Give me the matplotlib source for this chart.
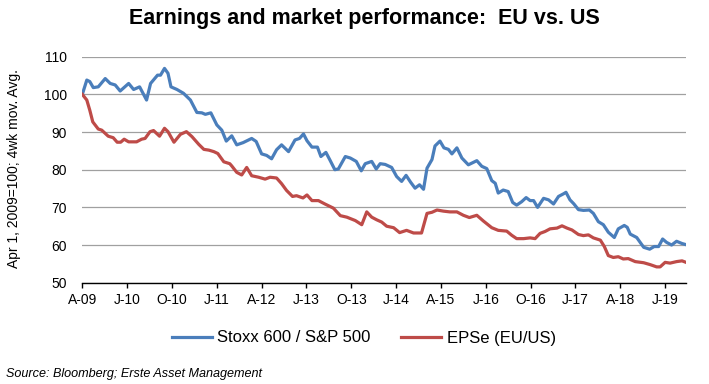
import matplotlib.pyplot as plt

plt.rcParams['font.family'] = ['Liberation Sans', 'DejaVu Sans']

# months since Apr 2009 (Apr 1, 2009 = 100)
stoxx_m = [0, 0.9, 1.5, 2.2, 3.2, 4.6, 5.6, 6.6, 7.6, 9.3, 10.3, 11.5, 12.9, 13.7, 15.1, 15.7,
           16.5, 17.2, 17.8, 19.0, 20.3, 21.7, 23.0, 24.0, 24.7, 25.8, 27.0, 28.0, 28.9, 30.0,
           31.0, 32.3, 34.0, 34.9, 36.0, 37.0, 38.0, 39.0, 40.0, 41.4, 42.7, 43.6, 44.4, 45.1,
           46.1, 47.2, 47.9, 48.9, 49.7, 50.7, 51.4, 52.8, 53.8, 55.0, 56.0, 56.8, 58.1, 59.0,
           59.8, 60.8, 62.1, 63.1, 64.1, 65.0, 65.9, 66.8, 67.7, 68.5, 69.2, 70.2, 70.8, 71.8,
           72.6, 73.5, 74.2, 75.2, 76.2, 77.5, 79.2, 80.2, 81.2, 82.2, 82.9, 83.5, 84.5, 85.5,
           86.4, 87.2, 88.2, 89.1, 89.9, 90.6, 91.4, 92.6, 93.6, 94.6, 95.6, 96.6, 97.1, 97.9,
           98.7, 99.6, 100.6, 101.8, 102.6, 103.6, 104.6, 105.6, 106.8, 107.6, 108.8, 109.4,
           110.0, 111.3, 112.7, 113.9, 114.8, 115.7, 116.5, 117.3, 118.3, 119.3, 120.4, 121.2]
stoxx_v = [100, 103.8, 103.4, 101.8, 102.0, 104.2, 102.9, 102.5, 100.9, 102.9, 101.3, 102.0, 98.5,
           102.9, 105.1, 105.1, 106.9, 105.6, 102.0, 101.3, 100.3, 98.5, 95.2, 95.1, 94.7, 95.1,
           91.9, 90.5, 87.6, 89.0, 86.6, 87.2, 88.3, 87.5, 84.2, 83.8, 82.9, 85.3, 86.6, 84.8,
           87.9, 88.3, 89.5, 87.7, 86.0, 86.0, 83.5, 84.6, 82.6, 80.0, 80.2, 83.5, 83.1, 82.2,
           79.7, 81.6, 82.2, 80.2, 81.6, 81.4, 80.6, 78.2, 76.9, 78.5, 76.7, 75.1, 76.0, 74.8,
           80.4, 82.7, 86.3, 87.6, 85.8, 85.4, 84.2, 85.8, 83.1, 81.3, 82.4, 80.9, 80.3, 77.1,
           76.4, 73.8, 74.6, 74.2, 71.3, 70.6, 71.5, 72.6, 71.8, 71.8, 70.0, 72.4, 72.0, 70.9,
           72.9, 73.6, 74.0, 72.0, 70.9, 69.4, 69.2, 69.3, 68.4, 66.2, 65.4, 63.4, 62.0, 64.3,
           65.2, 64.7, 62.9, 62.0, 59.4, 58.9, 59.6, 59.6, 61.6, 60.7, 60.0, 61.0, 60.4, 60.1]

eps_m = [0, 0.9, 1.5, 2.1, 3.2, 3.9, 5.2, 6.2, 7.0, 7.7, 8.4, 9.3, 10.9, 11.9, 12.6, 13.6, 14.3,
         15.5, 16.5, 17.2, 18.4, 19.7, 20.9, 22.0, 23.4, 24.4, 25.4, 26.4, 27.2, 28.4, 29.6,
         30.0, 31.0, 32.0, 33.0, 34.0, 35.4, 36.7, 37.7, 39.0, 40.0, 41.0, 42.2, 43.0, 44.3,
         45.1, 46.1, 47.4, 48.7, 50.4, 51.8, 53.1, 54.8, 56.1, 57.1, 58.1, 59.1, 60.1, 61.1,
         62.5, 63.7, 65.1, 66.5, 68.1, 69.2, 70.2, 71.2, 72.5, 73.8, 75.2, 76.5, 77.7, 79.2,
         80.5, 82.2, 83.5, 85.2, 86.2, 87.2, 88.6, 89.9, 90.9, 91.9, 92.9, 93.9, 95.3, 96.3,
         97.3, 98.3, 99.6, 100.6, 101.6, 102.6, 104.0, 104.8, 105.6, 106.6, 107.6, 108.6,
         109.6, 111.0, 112.7, 114.0, 115.3, 116.0, 117.0, 118.0, 119.3, 120.4, 121.2]
eps_v = [100, 98.5, 95.8, 92.7, 90.8, 90.5, 88.9, 88.5, 87.3, 87.3, 88.1, 87.4, 87.4, 88.1, 88.3,
         90.1, 90.4, 88.9, 91.0, 90.1, 87.3, 89.4, 90.1, 88.8, 86.7, 85.4, 85.2, 84.8, 84.3,
         82.1, 81.6, 81.0, 79.3, 78.6, 80.6, 78.4, 78.0, 77.5, 78.0, 77.8, 76.3, 74.5, 72.9,
         73.1, 72.5, 73.3, 71.8, 71.8, 70.9, 69.8, 67.8, 67.4, 66.5, 65.4, 68.8, 67.4, 66.7,
         66.1, 65.0, 64.6, 63.3, 63.9, 63.2, 63.2, 68.4, 68.7, 69.3, 69.0, 68.8, 68.8, 67.9,
         67.3, 67.9, 66.4, 64.6, 63.9, 63.7, 62.6, 61.7, 61.7, 61.9, 61.7, 63.1, 63.6, 64.3,
         64.5, 65.1, 64.5, 64.0, 62.8, 62.5, 62.7, 61.9, 61.3, 59.6, 57.2, 56.7, 56.9, 56.3,
         56.4, 55.6, 55.3, 54.8, 54.2, 54.2, 55.4, 55.2, 55.6, 55.8, 55.4]

tick_labels = ['A-09', 'J-10', 'O-10', 'J-11', 'A-12', 'J-13', 'O-13', 'J-14',
               'A-15', 'J-16', 'O-16', 'J-17', 'A-18', 'J-19']
tick_pos = [9 * i for i in range(len(tick_labels))]

fig = plt.figure(figsize=(7.09, 3.84), dpi=100)
ax = fig.add_axes([0.1161, 0.2638, 0.8515, 0.5885])

ax.plot(stoxx_m, stoxx_v, color='#4A7EBB', lw=2.3, label='Stoxx 600 / S&P 500', zorder=3)
ax.plot(eps_m, eps_v, color='#BE4B48', lw=2.3, label='EPSe (EU/US)', zorder=3)

ax.set_xlim(0, 121.2)
ax.set_ylim(50, 110)
ax.set_yticks(range(50, 111, 10))
ax.set_xticks(tick_pos)
ax.set_xticklabels(tick_labels)
ax.yaxis.grid(True, color='#A0A0A0', lw=0.9)
ax.set_axisbelow(True)
for s in ['left', 'right', 'top']:
    ax.spines[s].set_visible(False)
ax.spines['bottom'].set_linewidth(1.0)
ax.tick_params(axis='x', direction='out', length=3.5, width=1.0, pad=4, labelsize=10)
ax.tick_params(axis='y', length=0, pad=11, labelsize=10)

fig.text(0.514, 0.9375, 'Earnings and market performance:  EU vs. US',
         ha='center', va='baseline', fontsize=15.5, fontweight='bold')
fig.text(14 / 709, 1 - 169 / 384, 'Apr 1, 2009=100; 4wk mov. Avg.', rotation=90,
         ha='center', va='center', fontsize=10)
fig.legend(loc='center', bbox_to_anchor=(0.513, 1 - 338 / 384), ncol=2, frameon=False,
           fontsize=12, handlelength=2.4, handletextpad=0.35, columnspacing=1.8)
fig.text(0.009, 1 - 374 / 384, 'Source: Bloomberg; Erste Asset Management',
         ha='left', va='center', fontsize=9.1, style='italic')

fig.savefig('out.png', dpi=100)
